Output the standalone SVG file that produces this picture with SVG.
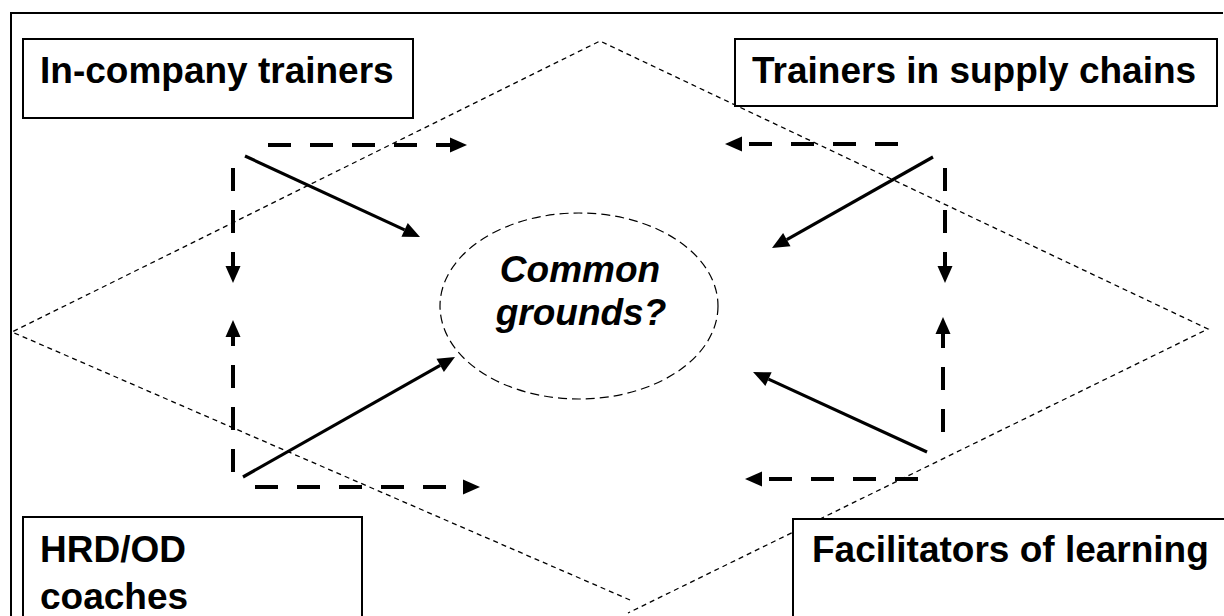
<svg xmlns="http://www.w3.org/2000/svg" width="1224" height="616" viewBox="0 0 1224 616">
<style>
.box{fill:#fff;stroke:#000;stroke-width:2}
.lbl{font-family:"Liberation Sans",Arial,sans-serif;font-weight:bold;font-size:37px;fill:#000}
.cg{font-family:"Liberation Sans",Arial,sans-serif;font-weight:bold;font-style:italic;font-size:37px;fill:#000}
.dia{fill:none;stroke:#000;stroke-width:1.3;stroke-dasharray:5 4}
.ell{fill:none;stroke:#000;stroke-width:1.2;stroke-dasharray:9 5}
.dash{fill:none;stroke:#000;stroke-width:4;stroke-dasharray:23 19;marker-end:url(#ah)}
.solid{fill:none;stroke:#000;stroke-width:3.2;marker-end:url(#ah)}
</style>
<defs>
<marker id="ah" markerUnits="userSpaceOnUse" markerWidth="20" markerHeight="18" viewBox="0 -9 18 18" refX="0" refY="0" orient="auto">
<path d="M0,-7.5 L17,0 L0,7.5 z" fill="#000"/>
</marker>
</defs>
<rect x="0" y="0" width="1224" height="616" fill="#fff"/>
<g id="frame"><path d="M11,630 L11,13 L1223,13" fill="none" stroke="#000" stroke-width="2"/></g>
<g id="diamond"><path class="dia" d="M630,600 L12,332 L600,41 L1208,329 L628,613"/></g>
<g id="common-grounds">
<ellipse class="ell" cx="579" cy="306" rx="139" ry="93"/>
<text class="cg" x="580" y="282" text-anchor="middle">Common</text>
<text class="cg" x="581" y="325" text-anchor="middle">grounds?</text>
</g>
<g id="in-company">
<rect class="box" x="23" y="39" width="390" height="79"/>
<text class="lbl" x="40" y="83">In-company trainers</text>
</g>
<g id="supply-chains">
<rect class="box" x="735" y="39" width="482" height="67"/>
<text class="lbl" x="752" y="83">Trainers in supply chains</text>
</g>
<g id="hrd-od">
<rect class="box" x="23" y="517" width="339" height="120"/>
<text class="lbl" x="40" y="562">HRD/OD</text>
<text class="lbl" x="40" y="609">coaches</text>
</g>
<g id="facilitators">
<rect class="box" x="793" y="519" width="440" height="120"/>
<text class="lbl" x="812" y="562">Facilitators of learning</text>
</g>
<g id="connectors">
<path class="dash" d="M268,145 L450,145"/>
<path class="dash" d="M233,168 L233,266"/>
<path class="dash" d="M233,472 L233,337"/>
<path class="dash" d="M255,487 L463,487"/>
<path class="solid" d="M245,156 L404.6,229.9"/>
<path class="solid" d="M243,477 L440.2,365.4"/>
<path class="dash" d="M898,144 L742,144"/>
<path class="solid" d="M933,157 L786.8,239.6"/>
<path class="dash" d="M945,168 L945,266"/>
<path class="dash" d="M943,432 L943,334"/>
<path class="solid" d="M927,452 L768.5,379.1"/>
<path class="dash" d="M918,479 L762,479"/>
</g>
</svg>
